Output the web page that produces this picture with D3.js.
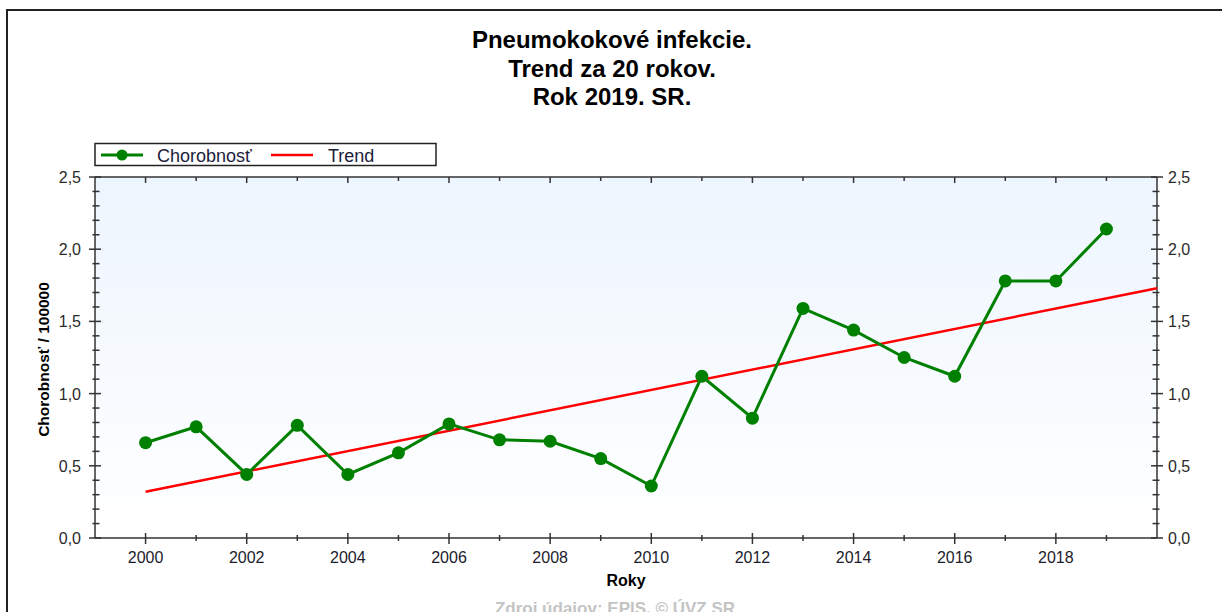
<!DOCTYPE html>
<html><head><meta charset="utf-8">
<script src="https://cdn.jsdelivr.net/npm/d3@7"></script>
<style>html,body{margin:0;padding:0;background:#fff;}svg{display:block;font-family:"Liberation Sans",Arial,sans-serif;}</style>
</head><body>
<svg id="chart" width="1222" height="612"></svg>
<script>
const titleLines = ["Pneumokokové infekcie.", "Trend za 20 rokov.", "Rok 2019. SR."];
const years = [2000,2001,2002,2003,2004,2005,2006,2007,2008,2009,2010,2011,2012,2013,2014,2015,2016,2017,2018,2019];
const chorobnost = [0.66,0.77,0.44,0.78,0.44,0.59,0.79,0.68,0.67,0.55,0.36,1.12,0.83,1.59,1.44,1.25,1.12,1.78,1.78,2.14];
const trendYears = [2000, 2020];
const trendValues = [0.32, 1.73];
const xTickLabels = [2000,2002,2004,2006,2008,2010,2012,2014,2016,2018];
const yTickLabels = [0,0.5,1,1.5,2,2.5];
const seriesNames = ["Chorobnosť", "Trend"];
const xTitle = "Roky";
const yTitle = "Chorobnosť / 100000";
const sourceText = "Zdroj údajov: EPIS, © ÚVZ SR";

const svg = d3.select("#chart");
const L = 95, R = 1157, T = 177, B = 538;
const x = d3.scaleLinear().domain([1999, 2020]).range([L, R]);
const y = d3.scaleLinear().domain([0, 2.5]).range([B, T]);
const fmt = d => d.toFixed(1).replace(".", ",");

// outer frame
svg.append("path").attr("d", `M7,612 L7,10 L1222,10`).attr("fill","none").attr("stroke","#222").attr("stroke-width",2);

// title
svg.append("g").selectAll("text").data(titleLines).join("text")
  .attr("x", 612).attr("y", (d,i)=>48+i*28.5).attr("text-anchor","middle")
  .attr("font-size",24).attr("font-weight","bold").attr("fill","#000").text(d=>d);

// gradient background
const defs = svg.append("defs");
const g = defs.append("linearGradient").attr("id","bg").attr("x1",0).attr("y1",0).attr("x2",0).attr("y2",1);
g.append("stop").attr("offset","0%").attr("stop-color","#edf5fe");
g.append("stop").attr("offset","100%").attr("stop-color","#ffffff");
svg.append("rect").attr("x",L).attr("y",T).attr("width",R-L).attr("height",B-T).attr("fill","url(#bg)");

const axisColor = "#333";
[[L,T,R,T],[L,B,R,B],[L,T,L,B],[R,T,R,B]].forEach(s =>
  svg.append("line").attr("x1",s[0]).attr("y1",s[1]).attr("x2",s[2]).attr("y2",s[3]).attr("stroke",axisColor).attr("stroke-width",1.5));

// x ticks
const xAll = d3.range(2000, 2020);
const tk = svg.append("g").attr("stroke",axisColor).attr("stroke-width",1.5);
xAll.forEach(v => {
  const major = v % 2 === 0;
  tk.append("line").attr("x1",x(v)).attr("x2",x(v)).attr("y1",B-(major?5:3)).attr("y2",B+(major?6:3));
  tk.append("line").attr("x1",x(v)).attr("x2",x(v)).attr("y1",T).attr("y2",T+(major?6:4));
});
// y ticks
const yMinor = d3.range(0, 26).map(i => i/10);
yMinor.forEach(v => {
  const major = Math.abs(v*2 - Math.round(v*2)) < 1e-6;
  [L, R].forEach((ax, j) => {
    const out = major ? 6 : 2.5, inn = major ? 6 : 4.5;
    const sgn = j === 0 ? -1 : 1;
    tk.append("line").attr("y1",y(v)).attr("y2",y(v)).attr("x1",ax+sgn*out).attr("x2",ax-sgn*inn);
  });
});

// x tick labels
svg.append("g").selectAll("text").data(xTickLabels).join("text")
  .attr("x", d=>x(d)).attr("y", 563).attr("text-anchor","middle").attr("font-size",16).attr("fill","#1c1c2c").text(d=>d);
// y tick labels
svg.append("g").selectAll("text").data(yTickLabels).join("text")
  .attr("x", 81).attr("y", d=>y(d)+6).attr("text-anchor","end").attr("font-size",16).attr("fill","#2a2a2a").text(fmt);
svg.append("g").selectAll("text").data(yTickLabels).join("text")
  .attr("x", 1168).attr("y", d=>y(d)+6).attr("text-anchor","start").attr("font-size",16).attr("fill","#2a2a2a").text(fmt);

// axis titles
svg.append("text").attr("x",(L+R)/2).attr("y",586).attr("text-anchor","middle").attr("font-size",16).attr("font-weight","bold").attr("fill","#000").text(xTitle);
svg.append("text").attr("transform",`translate(49,${(T+B)/2+2}) rotate(-90)`).attr("text-anchor","middle").attr("font-size",15.5).attr("font-weight","bold").attr("fill","#000").text(yTitle);

// trend line
svg.append("path").datum(trendYears.map((d,i)=>[d,trendValues[i]]))
  .attr("d", d3.line().x(d=>x(d[0])).y(d=>y(d[1])))
  .attr("fill","none").attr("stroke","#ff0000").attr("stroke-width",2.5);

// data line
const pts = years.map((d,i)=>[d, chorobnost[i]]);
svg.append("path").datum(pts).attr("d", d3.line().x(d=>x(d[0])).y(d=>y(d[1])))
  .attr("fill","none").attr("stroke","#008000").attr("stroke-width",3);
svg.append("g").selectAll("circle").data(pts).join("circle")
  .attr("cx",d=>x(d[0])).attr("cy",d=>y(d[1])).attr("r",6.5).attr("fill","#008000");

// legend
const lg = svg.append("g");
lg.append("rect").attr("x",95).attr("y",143.5).attr("width",341).attr("height",22).attr("fill","#fff").attr("stroke","#222").attr("stroke-width",1.5);
lg.append("line").attr("x1",101).attr("x2",143).attr("y1",155).attr("y2",155).attr("stroke","#008000").attr("stroke-width",3);
lg.append("circle").attr("cx",122).attr("cy",155).attr("r",5.5).attr("fill","#008000");
lg.append("text").attr("x",157).attr("y",161.5).attr("font-size",18).attr("fill","#1c1c3c").text(seriesNames[0]);
lg.append("line").attr("x1",271).attr("x2",313).attr("y1",155).attr("y2",155).attr("stroke","#ff0000").attr("stroke-width",2.5);
lg.append("text").attr("x",328).attr("y",161.5).attr("font-size",18).attr("fill","#1c1c3c").text(seriesNames[1]);

// source
svg.append("text").attr("x",615).attr("y",614).attr("text-anchor","middle").attr("font-size",17).attr("font-weight","bold").attr("fill","#c4c4c4").text(sourceText);
</script>
</body></html>
